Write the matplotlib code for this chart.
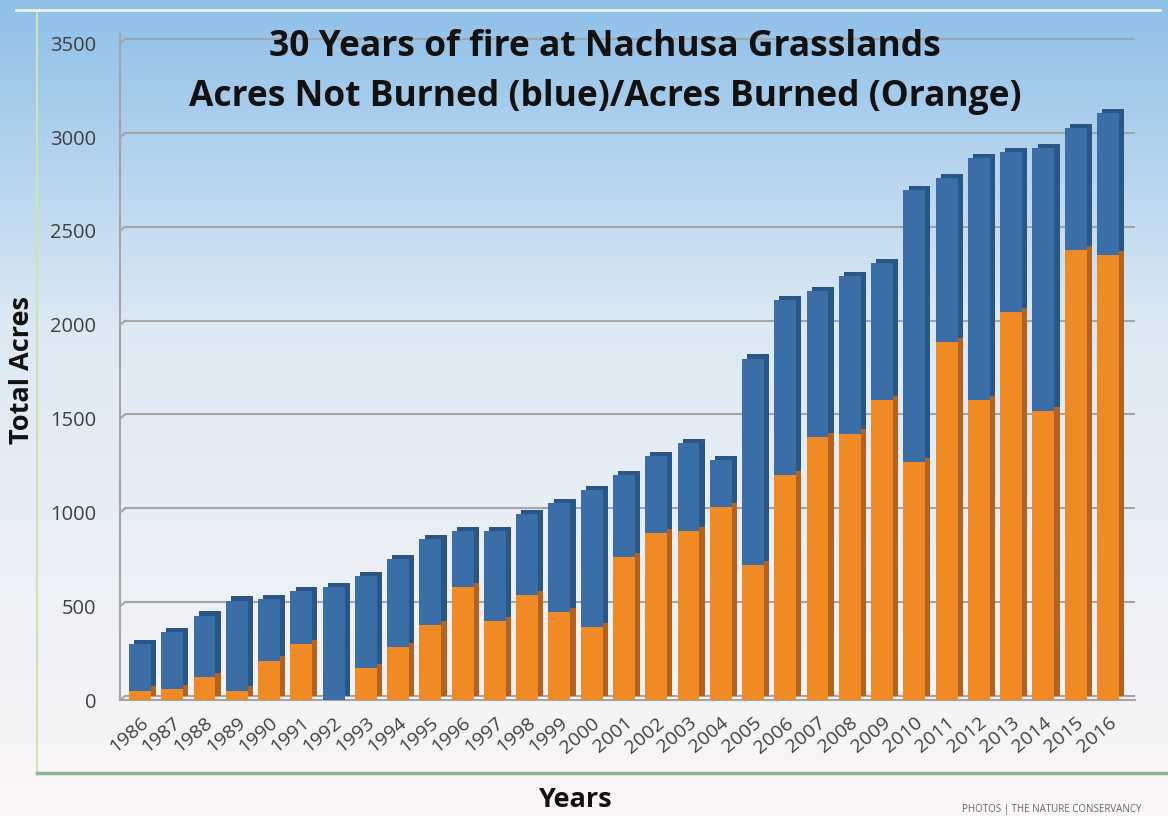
import numpy as np
import matplotlib.pyplot as plt
from matplotlib.lines import Line2D

years = [str(y) for y in range(1986, 2017)]
# total acres and burned acres per year
total = np.array([300, 360, 450, 530, 540, 580, 600, 660, 750, 860,
                  900, 900, 990, 1050, 1120, 1200, 1300, 1370, 1280, 1820,
                  2130, 2180, 2260, 2330, 2720, 2780, 2890, 2920, 2940, 3050, 3130])
burned = np.array([50, 60, 120, 50, 210, 300, 0, 170, 280, 400,
                   600, 420, 560, 470, 390, 760, 890, 900, 1030, 720,
                   1200, 1400, 1420, 1600, 1270, 1910, 1600, 2070, 1540, 2400, 2370])
not_burned = total - burned
yticks = [0, 500, 1000, 1500, 2000, 2500, 3000, 3500]

plt.rcParams['font.family'] = ['Open Sans', 'DejaVu Sans']

W, H = 1168, 816
fig = plt.figure(figsize=(W / 100, H / 100), dpi=100)

# background gradient
bg = fig.add_axes([0, 0, 1, 1], zorder=-5)
grad = np.linspace(0, 1, 256)
top_c = np.array([0x8e, 0xbf, 0xe8]) / 255
mid_c = np.array([0xdc, 0xe9, 0xf4]) / 255
bot_c = np.array([0xfc, 0xf6, 0xf7]) / 255
cols = np.zeros((256, 1, 3))
for i, g in enumerate(grad):
    if g < 0.4:
        t = g / 0.4
        cols[i, 0] = top_c * (1 - t) + mid_c * t
    else:
        t = (g - 0.4) / 0.6
        cols[i, 0] = mid_c * (1 - t) + bot_c * t
bg.imshow(cols, aspect='auto', extent=[0, 1, 0, 1], origin='upper')
bg.set_xlim(0, 1)
bg.set_ylim(0, 1)
bg.axis('off')

# outer frame lines
fig.add_artist(Line2D([37 / W, 37 / W], [1 - 10 / H, 1 - 773 / H], color='#cfe3b0', lw=1.5))
fig.add_artist(Line2D([16 / W, 1160 / W], [1 - 10 / H, 1 - 10 / H], color='#eef2d8', lw=2))
fig.add_artist(Line2D([37 / W, 1], [1 - 773 / H, 1 - 773 / H], color='#86b894', lw=2.5))

ax = fig.add_axes([120 / W, 1 - 700 / H, (1135 - 120) / W, (700 - 34) / H])
ax.set_facecolor('none')
xl, xr = -0.62, 30.84
ax.set_xlim(xl, xr)
ax.set_ylim(0, 3550)

x = np.arange(len(years))
w = 0.68
dx, dy = 0.16, 22

# back wall gridlines with a small perspective offset
for t in yticks:
    ax.plot([xl, xl + dx], [t, t + dy], color='#a5a5a5', lw=1.5, zorder=1)
    ax.hlines(t + dy, xl + dx, xr, color='#a5a5a5', lw=1.5, zorder=1)

blue, blue_side = '#3b6ea6', '#2a5686'
orange, orange_side = '#f08a24', '#b5621e'

# side faces (shifted darker bars), then front faces
ax.bar(x + dx, burned, w, bottom=dy, color=orange_side, zorder=2)
ax.bar(x + dx, not_burned, w, bottom=burned + dy, color=blue_side, zorder=2)
ax.bar(x, burned, w, color=orange, zorder=3)
ax.bar(x, not_burned, w, bottom=burned, color=blue, zorder=3)

for s in ['top', 'right']:
    ax.spines[s].set_visible(False)
ax.spines['left'].set_color('#a5a5a5')
ax.spines['left'].set_linewidth(1.5)
ax.spines['bottom'].set_color('#a5a5a5')
ax.spines['bottom'].set_linewidth(1.5)

ax.set_yticks(yticks)
ax.set_yticklabels([str(t) for t in yticks])
ax.tick_params(axis='y', length=0, pad=17, labelsize=14.5, labelcolor='#404040')
ax.set_xticks(x)
ax.set_xticklabels(years, rotation=40, ha='right', rotation_mode='anchor')
ax.tick_params(axis='x', length=0, pad=10, labelsize=14, labelcolor='#404040')

fig.text(605 / W, 1 - 47 / H, '30 Years of fire at Nachusa Grasslands',
         ha='center', va='center', fontsize=25.5, fontweight='bold', color='#111111')
fig.text(605 / W, 1 - 97 / H, 'Acres Not Burned (blue)/Acres Burned (Orange)',
         ha='center', va='center', fontsize=25.5, fontweight='bold', color='#111111')
fig.text(22 / W, 1 - 370 / H, 'Total Acres', rotation=90, ha='center', va='center',
         fontsize=19.5, fontweight='bold', color='#111111')
fig.text(575 / W, 1 - 800 / H, 'Years', ha='center', va='center',
         fontsize=19.5, fontweight='bold', color='#111111')
fig.text(962 / W, 1 - 815 / H, 'PHOTOS | THE NATURE CONSERVANCY', ha='left', va='bottom',
         fontsize=7, color='#666666')

fig.savefig('out.png', dpi=100)
